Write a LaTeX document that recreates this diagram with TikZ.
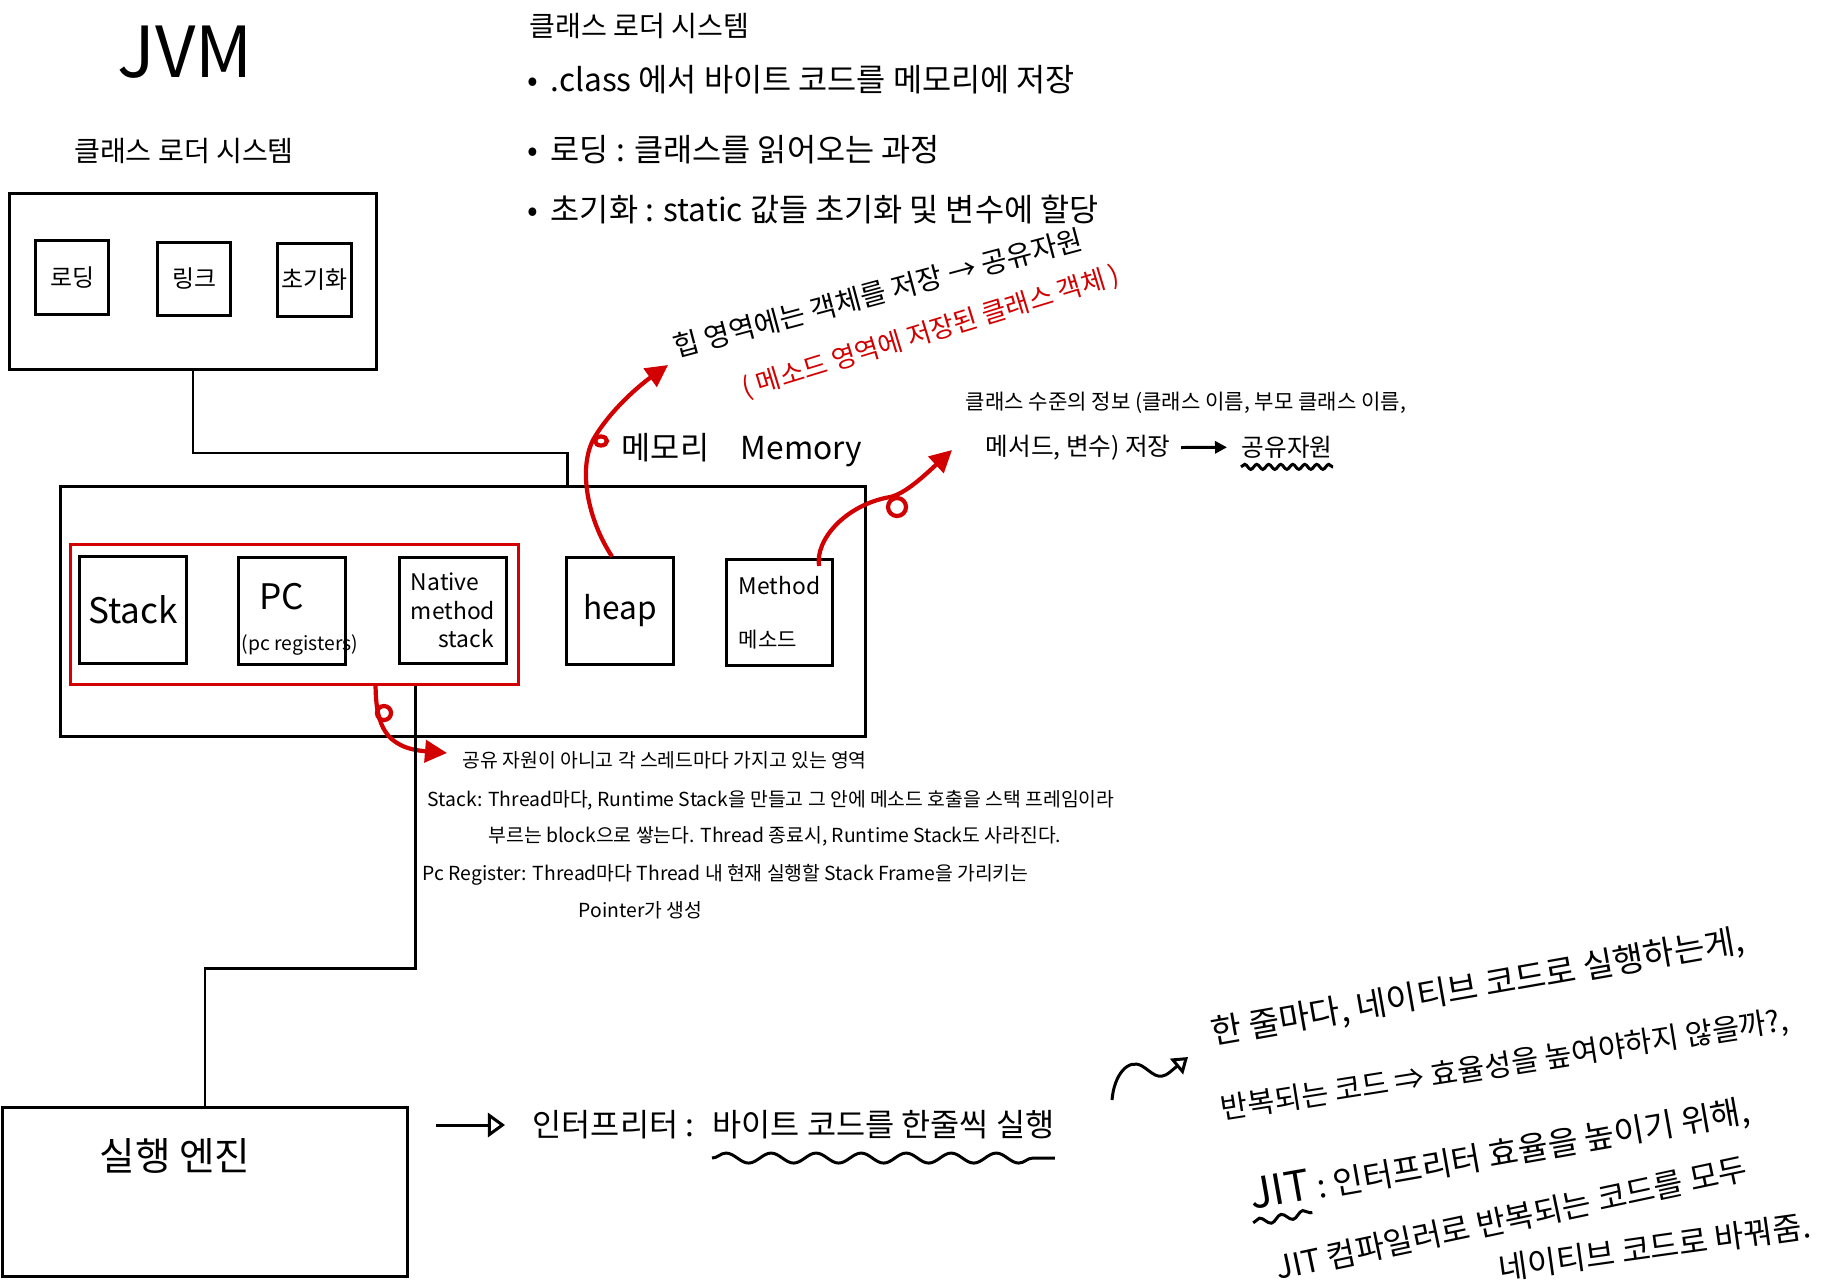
\documentclass[tikz,border=0pt]{standalone}
\usepackage{fontspec}
\setmainfont{Noto Sans CJK KR}
\usetikzlibrary{arrows.meta,decorations.pathmorphing}
\definecolor{penred}{RGB}{210,0,0}
\newcommand{\penfont}[1]{\fontsize{#1}{1.25\dimexpr #1pt\relax}\selectfont}
\tikzset{
  box/.style={draw, line width=0.85pt, inner sep=0pt},
  hand/.style={inner sep=0pt},
  wire/.style={line width=0.85pt},
  redarrow/.style={penred, line width=1.2pt, -{Triangle[length=0.22cm,width=0.22cm]}},
  redloop/.style={penred, line width=1.2pt},
  hollowarrow/.style={line width=0.85pt, -{Triangle[open,length=0.17cm,width=0.24cm]}},
  wavy/.style={line width=0.85pt, decorate, decoration={snake, amplitude=0.05cm, segment length=0.45cm}}
}
\begin{document}
\begin{tikzpicture}[x=0.01cm, y=-0.01cm]
    \useasboundingbox (0,0) rectangle (1822,1285);
    \fill[white] (0,0) rectangle (1822,1285);
    % class loader
    \node[hand, font=\penfont{20}] (jvm) at (185,52) {JVM};
    \node[hand, font=\penfont{8}] (loadertitle) at (184,151) {클래스 로더 시스템};
    \node[box, minimum width=3.66cm, minimum height=1.75cm] (loader) at (193,281.5) {};
    \node[box, minimum width=0.72cm, minimum height=0.73cm, font=\penfont{6.8}] (loading) at (72,277.5) {로딩};
    \node[box, minimum width=0.72cm, minimum height=0.72cm, font=\penfont{6.8}] (linking) at (194,279) {링크};
    \node[box, minimum width=0.73cm, minimum height=0.72cm, font=\penfont{6.8}] (init) at (314.5,280) {초기화};
    % notes on the class loader
    \node[hand, font=\penfont{8}, anchor=west] (loadernotes) at (529,26) {클래스 로더 시스템};
    \node[hand, font=\penfont{9}, anchor=west] (note1) at (527,80) {•\, .class 에서 바이트 코드를 메모리에 저장};
    \node[hand, font=\penfont{9}, anchor=west] (note2) at (527,150) {•\, 로딩 : 클래스를 읽어오는 과정};
    \node[hand, font=\penfont{9}, anchor=west] (note3) at (527,210) {•\, 초기화 : static 값들 초기화 및 변수에 할당};
    % memory
    \node[box, minimum width=8.04cm, minimum height=2.49cm] (memory) at (463,611.5) {};
    \node[hand, font=\penfont{9}] (memtitle) at (742,450) {메모리\quad Memory};
    \node[box, draw=penred, minimum width=4.47cm, minimum height=1.39cm] (threadarea) at (294.5,614.5) {};
    \node[box, minimum size=1.06cm, font=\penfont{10}] (stack) at (133,610) {Stack};
    \node[box, minimum size=1.06cm] (pc) at (292,611) {};
    \node[hand, font=\penfont{10}] (pctitle) at (282,597) {PC};
    \node[hand, font=\penfont{5.5}] (pcfull) at (300,645) {(pc registers)};
    \node[box, minimum size=1.06cm, font=\penfont{6.5}, align=left] (native) at (453,610.5) {Native\\method\\\hspace*{1.2em}stack};
    \node[box, minimum size=1.06cm, font=\penfont{9}] (heap) at (620,611) {heap};
    \node[box, minimum size=1.06cm, align=left] (method) at (779.5,612.5) {{\penfont{6.5}Method}\\[3pt]{\penfont{6}메소드}};
    \coordinate (memjoin) at (567,453);
    \draw[wire] (loader.south) |- (memjoin) -- (memjoin |- memory.north);
    % heap and method area notes
    \node[hand, font=\penfont{8}, anchor=base west, rotate=15] (heapnote) at (676,358) {힙 영역에는 객체를 저장 → 공유자원};
    \node[hand, font=\penfont{7.5}, anchor=base west, rotate=17, text=penred] (heapobj) at (745,398) {( 메소드 영역에 저장된 클래스 객체 )};
    \node[hand, font=\penfont{6}, anchor=west] (classinfo) at (965,403) {클래스 수준의 정보 (클래스 이름, 부모 클래스 이름,};
    \node[hand, font=\penfont{7}, anchor=west] (classsave) at (985,448) {메서드, 변수) 저장};
    \node[hand, font=\penfont{7}] (shared) at (1287,447) {공유자원};
    \draw[wire, -{Triangle[length=0.12cm,width=0.12cm]}, shorten <=0.1cm, shorten >=0.14cm] (classsave) -- (shared);
    \draw[wavy, decoration={snake, amplitude=0.025cm, segment length=0.12cm}] ([yshift=-0.08cm]shared.south west) -- ([yshift=-0.08cm]shared.south east);
    \coordinate (heapto) at (668,365);
    \draw[redarrow] ([xshift=-0.08cm]heap.north) .. controls (588,520) and (578,470) .. (593,440) .. controls (610,410) and (640,385) .. (heapto);
    \draw[redloop] (601,441) circle[x radius=0.06cm, y radius=0.045cm];
    \coordinate (methodto) at (952,450);
    \draw[redarrow] ([xshift=-0.15cm,yshift=-0.08cm]method.north east) .. controls (815,540) and (845,505) .. (890,497) .. controls (905,494) and (925,475) .. (methodto);
    \draw[redloop] (897,507) circle[radius=0.09cm];
    % per-thread notes
    \coordinate (threadto) at (447,753);
    \draw[redarrow] ([xshift=0.81cm]threadarea.south) .. controls (376,725) and (385,748) .. (threadto);
    \draw[redloop] (384,713) circle[radius=0.07cm];
    \node[hand, font=\penfont{5.5}, anchor=west] (threadnote) at (462,760) {공유 자원이 아니고 각 스레드마다 가지고 있는 영역};
    \node[hand, font=\penfont{5.5}, anchor=west] (stacknote) at (427,800) {Stack: Thread마다, Runtime Stack을 만들고 그 안에 메소드 호출을 스택 프레임이라};
    \node[hand, font=\penfont{5.5}, anchor=west] (stacknote2) at (488,836) {부르는 block으로 쌓는다. Thread 종료시, Runtime Stack도 사라진다.};
    \node[hand, font=\penfont{5.5}, anchor=west] (pcnote) at (422,875) {Pc Register: Thread마다 Thread 내 현재 실행할 Stack Frame을 가리키는};
    \node[hand, font=\penfont{5.5}, anchor=west] (pcnote2) at (578,910) {Pointer가 생성};
    % execution engine
    \node[box, minimum width=4.04cm, minimum height=1.68cm] (engine) at (205,1192) {};
    \node[hand, font=\penfont{11}] (enginetitle) at (175,1156) {실행 엔진};
    \coordinate (enginejoin) at (415,968);
    \draw[wire] (threadarea.south -| enginejoin) -- (enginejoin) -| (engine.north);
    \node[hand, font=\penfont{9}, anchor=west] (interp) at (532,1125) {인터프리터 :};
    \node[hand, font=\penfont{9}, anchor=west] (interpdesc) at (712,1125) {바이트 코드를 한줄씩 실행};
    \coordinate (interpfrom) at (436,1125);
    \draw[hollowarrow] (interpfrom) -- ([xshift=-0.27cm]interp.west);
    \draw[wavy] ([yshift=-0.18cm]interpdesc.south west) -- ([yshift=-0.18cm]interpdesc.south east);
    % JIT notes
    \coordinate (curlfrom) at (1112,1100);
    \coordinate (curlto) at (1188,1057);
    \draw[hollowarrow, -{Triangle[open,length=0.15cm,width=0.2cm]}] (curlfrom) .. controls (1114,1075) and (1128,1058) .. (1142,1066) .. controls (1152,1072) and (1158,1082) .. (1170,1072) -- (curlto);
    \node[hand, font=\penfont{9.5}, anchor=base west, rotate=10] (jitnote1) at (1213,1045) {한 줄마다, 네이티브 코드로 실행하는게,};
    \node[hand, font=\penfont{8.4}, anchor=base west, rotate=9] (jitnote2) at (1222,1120) {반복되는 코드 ⇒ 효율성을 높여야하지 않을까?,};
    \node[hand, font=\penfont{9.3}, anchor=base west, rotate=10] (jitnote3) at (1252,1210) {{\penfont{12}JIT} : 인터프리터 효율을 높이기 위해,};
    \node[hand, font=\penfont{9}, anchor=base west, rotate=12] (jitnote4) at (1278,1280) {JIT 컴파일러로 반복되는 코드를 모두};
    \node[hand, font=\penfont{9}, anchor=base west, rotate=8] (jitnote5) at (1500,1281) {네이티브 코드로 바꿔줌.};
    \draw[wavy, decoration={snake, amplitude=0.035cm, segment length=0.22cm}] ([yshift=-0.06cm]jitnote3.south west) -- ++(10:0.6cm);
\end{tikzpicture}
\end{document}
